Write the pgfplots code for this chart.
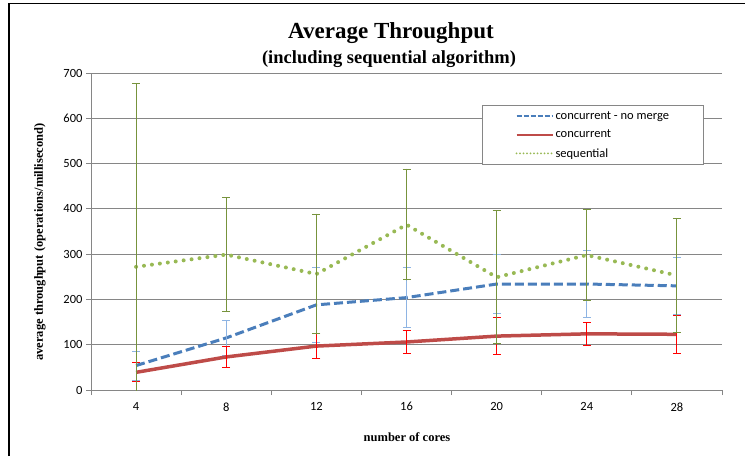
\documentclass[border=0pt]{standalone}
\usepackage{fontspec}
\setmainfont{Liberation Serif}
\newfontfamily\calibri{Carlito}
\usepackage{pgfplots}
\pgfplotsset{compat=1.18}
\usepackage{pgfplotstable}
\definecolor{cblue}{HTML}{4A7EBB}
\definecolor{cred}{HTML}{BE4B48}
\definecolor{cgreen}{HTML}{98B954}
\definecolor{eblue}{HTML}{8EB4E3}
\definecolor{ered}{HTML}{FF0000}
\definecolor{egreen}{HTML}{77933C}
\definecolor{gridgray}{HTML}{868686}

\pgfplotstableread{
x y e
0 54 32
1 115 38
2 188 83
3 204 67
4 234 66
5 234 73
6 230 63
}\nomerge
\pgfplotstableread{
x y e
0 39 21
1 73 23
2 97 27
3 106 26
4 119 40
5 124 25
6 123 42
}\concurrent
\pgfplotstableread{
x y e
0 272 404
1 299 125
2 256 132
3 365 122
4 249 147
5 298 100
6 253 125
}\sequential

\begin{document}
\begin{tikzpicture}[x=1pt,y=1pt]
\path[use as bounding box] (0,0) rectangle (745,456);
\draw[line width=1.5pt] (9,0) -- (9,452.5) -- (745,452.5);
\node[font=\fontsize{23}{23}\selectfont\bfseries] at (391,423) {Average Throughput};
\node[font=\fontsize{18.5}{18.5}\selectfont\bfseries] at (389,397) {(including sequential algorithm)};
\node[font=\fontsize{12.5}{12.5}\selectfont\bfseries] at (407,19) {number of cores};
\node[font=\fontsize{12.5}{12.5}\selectfont\bfseries, rotate=90] at (40,214) {average throughput (operations/millisecond)};
\begin{axis}[
  at={(91pt,66pt)}, anchor=south west,
  scale only axis, width=631pt, height=317pt,
  xmin=-0.5, xmax=6.5, ymin=0, ymax=700,
  xtick={0,...,6}, xticklabels={4,8,12,16,20,24,28},
  minor xtick={-0.5,0.5,...,6.5},
  ytick={0,100,...,700},
  axis lines*=left,
  axis line style={gridgray, line width=1pt},
  tick align=outside,
  major tick length=5pt, minor tick length=5pt,
  major x tick style={draw=none},
  minor x tick style={draw=gridgray, line width=1pt},
  y tick style={draw=gridgray, line width=1pt},
  ymajorgrids,
  major grid style={gridgray, line width=1pt},
  tick label style={font=\calibri\fontsize{12.5}{12.5}\selectfont},
  /pgf/number format/assume math mode=true,
  xticklabel style={yshift=-4pt},
  legend style={at={(0.6197,0.899)}, anchor=north west, draw=gridgray, line width=1pt,
    font=\calibri\fontsize{12.5}{12.5}\selectfont, inner xsep=33pt, inner ysep=4pt,
    row sep=5pt, cells={anchor=west}},
  legend cell align=left,
  legend image code/.code={\draw[#1] (0pt,0pt) -- (36pt,0pt);},
]
\addplot[cblue, line width=3pt, dash pattern=on 9pt off 4pt,
  legend image post style={line width=2pt, dash pattern=on 5pt off 2pt},
  error bars/.cd, y dir=both, y explicit,
  error bar style={eblue, line width=1pt, solid},
  error mark options={eblue, line width=1pt, mark size=4pt, rotate=90, solid}]
  table[x=x, y=y, y error=e] {\nomerge};
\addlegendentry{concurrent - no merge}
\addplot[cred, line width=3.5pt,
  legend image post style={line width=2pt},
  error bars/.cd, y dir=both, y explicit,
  error bar style={ered, line width=1pt},
  error mark options={ered, line width=1pt, mark size=4pt, rotate=90}]
  table[x=x, y=y, y error=e] {\concurrent};
\addlegendentry{concurrent}
\addplot[cgreen, line width=4pt, line cap=round, dash pattern=on 0pt off 8pt,
  legend image post style={line width=2pt, dash pattern=on 0pt off 3.5pt},
  error bars/.cd, y dir=both, y explicit,
  error bar style={egreen, line width=1pt, solid},
  error mark options={egreen, line width=1pt, mark size=4pt, rotate=90, solid}]
  table[x=x, y=y, y error=e] {\sequential};
\addlegendentry{sequential}
\end{axis}
\end{tikzpicture}
\end{document}
